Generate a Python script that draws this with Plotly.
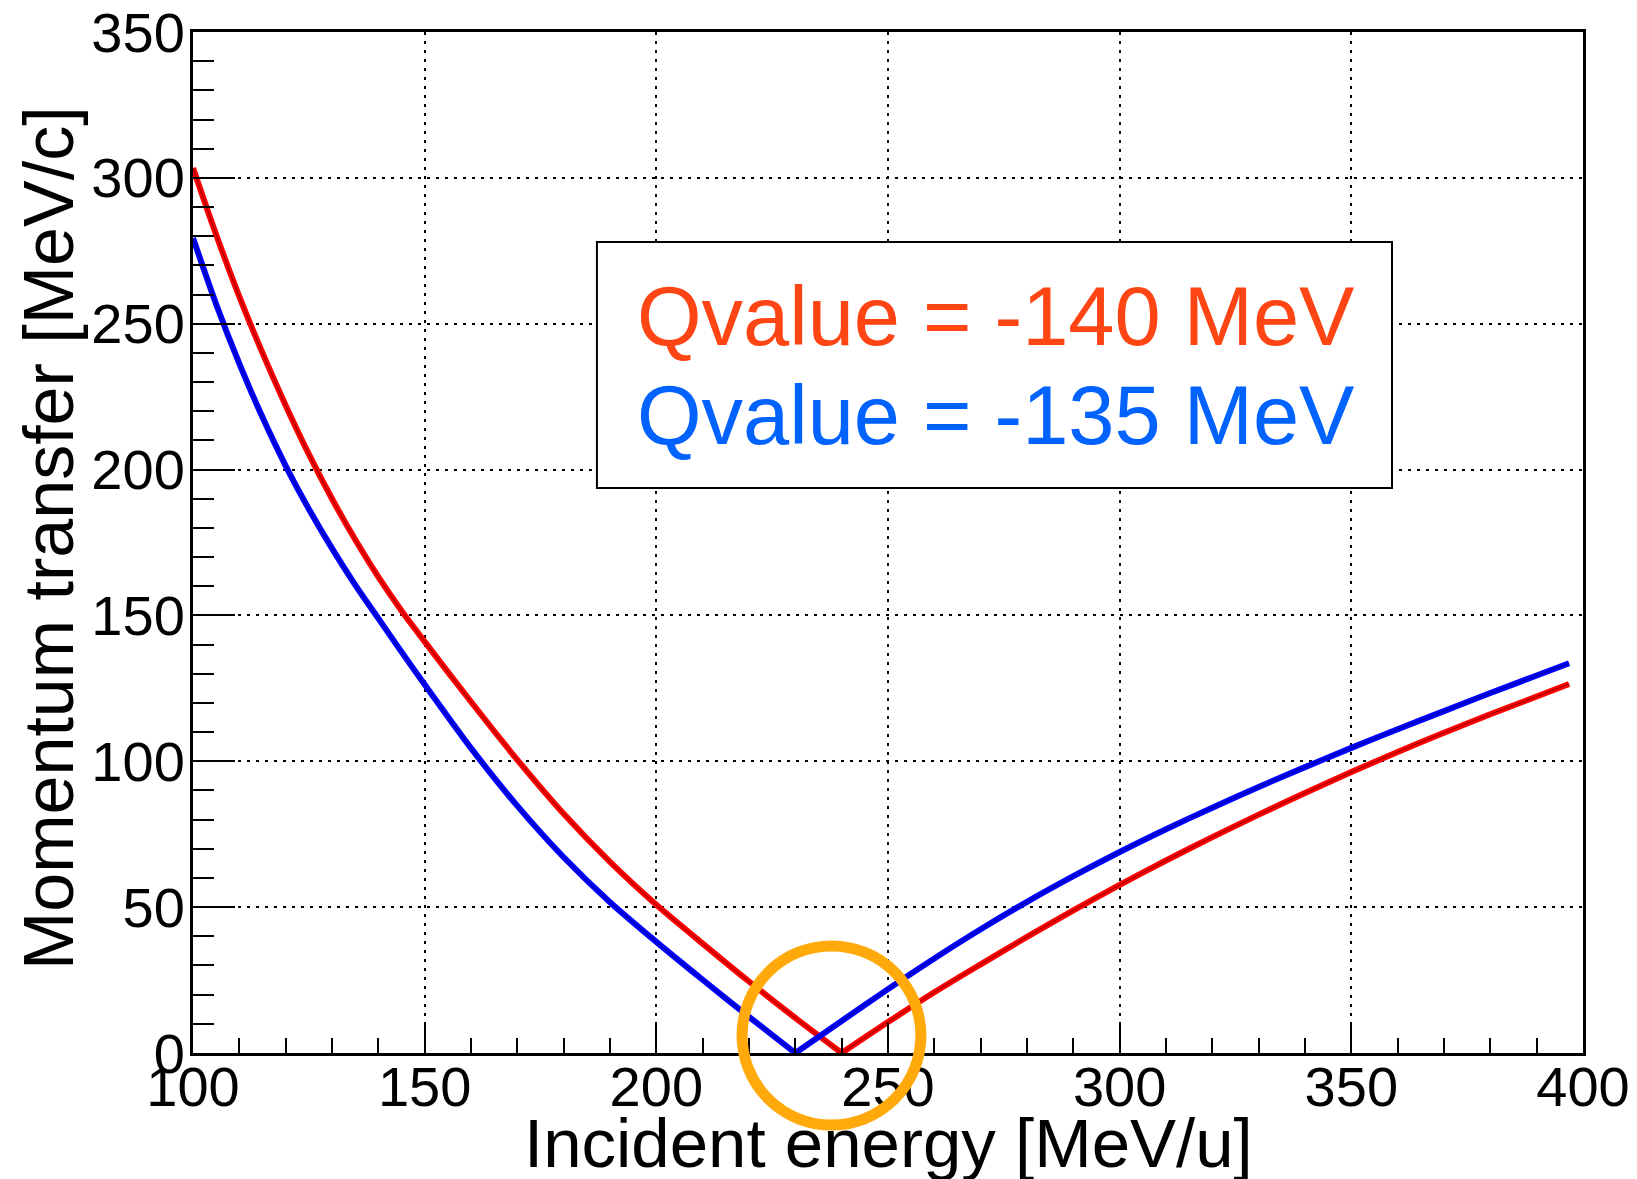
import plotly.graph_objects as go

# Incident energy [MeV/u] and momentum transfer [MeV/c] for two Q-values
energy_q140 = [100, 105, 110, 115, 120, 125, 130, 135, 140, 145, 150, 160, 170, 180,
               190, 200, 210, 220, 230, 240, 250, 260, 270, 280, 290, 300, 310, 320,
               330, 340, 350, 360, 370, 380, 390, 397]
qtrans_q140 = [303.4, 280.5, 259.3, 240.0, 222.0, 205.3, 190.0, 176.0, 163.2, 151.6,
               141.0, 120.4, 100.5, 82.0, 65.5, 50.8, 37.5, 24.5, 12.0, 0.0, 10.6, 20.8,
               30.4, 39.8, 48.9, 57.6, 66.0, 74.0, 81.7, 89.1, 96.3, 103.2, 109.8,
               116.1, 122.2, 126.5]

energy_q135 = [100, 105, 110, 115, 120, 125, 130, 135, 140, 145, 150, 160, 170, 180,
               190, 200, 210, 220, 230, 240, 250, 260, 270, 280, 290, 300, 310, 320,
               330, 340, 350, 360, 370, 380, 390, 397]
qtrans_q135 = [279.4, 256.7, 236.3, 217.9, 201.3, 186.5, 173.0, 160.5, 149.0, 137.5,
               126.3, 104.5, 84.7, 67.1, 51.7, 38.1, 25.1, 12.4, 0.0, 11.0, 21.9, 32.4,
               42.4, 51.8, 60.6, 68.9, 76.7, 84.1, 91.2, 98.0, 104.6, 111.0, 117.2,
               123.4, 129.4, 133.6]

legend_labels = ["Qvalue = -140 MeV", "Qvalue = -135 MeV"]
x_ticks = [100, 150, 200, 250, 300, 350, 400]
y_ticks = [0, 50, 100, 150, 200, 250, 300, 350]

X_RANGE = [100, 400]
Y_RANGE = [0, 350]

FONT = "Liberation Sans, Arial, Helvetica, sans-serif"

fig = go.Figure()


def add_branches(xs, ys, col):
    """Draw the falling and rising branches separately so the cusp at q=0 stays sharp."""
    i_min = ys.index(min(ys))
    for bx, by in [(xs[:i_min + 1], ys[:i_min + 1]), (xs[i_min:], ys[i_min:])]:
        fig.add_trace(go.Scatter(x=bx, y=by, mode="lines",
                                 line=dict(color=col, width=6, shape="spline",
                                           smoothing=0.8),
                                 showlegend=False, hoverinfo="skip"))
        fig.add_trace(go.Scatter(x=bx, y=by, mode="lines",
                                 line=dict(color="black", width=1, shape="spline",
                                           smoothing=0.8),
                                 opacity=0.45, showlegend=False, hoverinfo="skip"))


add_branches(energy_q140, qtrans_q140, "#ff0000")
add_branches(energy_q135, qtrans_q135, "#0000ff")


def to_paper_x(v):
    return (v - X_RANGE[0]) / (X_RANGE[1] - X_RANGE[0])


def to_paper_y(v):
    return (v - Y_RANGE[0]) / (Y_RANGE[1] - Y_RANGE[0])


# highlight ring around the two minima (spills over the axis, so paper refs)
ring_cx, ring_cy = 237.8, 6.0
ring_rx, ring_ry = 19.3, 30.7
fig.add_shape(type="circle", xref="paper", yref="paper",
              x0=to_paper_x(ring_cx - ring_rx), x1=to_paper_x(ring_cx + ring_rx),
              y0=to_paper_y(ring_cy - ring_ry), y1=to_paper_y(ring_cy + ring_ry),
              line=dict(color="#ffaa0a", width=11), layer="above")

# legend box
fig.add_shape(type="rect", xref="paper", yref="paper",
              x0=0.2906, x1=0.8626, y0=0.5534, y1=0.7943,
              line=dict(color="black", width=2), fillcolor="white", layer="above")

for label, col, yy in [(legend_labels[0], "#ff4513", 0.7209),
                       (legend_labels[1], "#0062ff", 0.6247)]:
    fig.add_annotation(text=label, xref="paper", yref="paper", x=0.3181, y=yy,
                       xanchor="left", yanchor="middle", showarrow=False,
                       font=dict(family=FONT, size=83, color=col))

# axis titles
fig.add_annotation(text="Incident energy [MeV/u]", xref="paper", yref="paper",
                   x=0.5007, y=-0.0886, xanchor="center", yanchor="middle",
                   showarrow=False, font=dict(family=FONT, size=69, color="black"))
fig.add_annotation(text="Momentum transfer [MeV/c]", xref="paper", yref="paper",
                   x=-0.1036, y=0.5044, xanchor="center", yanchor="middle",
                   textangle=-90, showarrow=False,
                   font=dict(family=FONT, size=70, color="black"))

axis_common = dict(showline=True, linecolor="black", linewidth=3, mirror=True,
                   ticks="inside", tickcolor="black", tickwidth=2,
                   showgrid=True, gridcolor="black", gridwidth=2, griddash="3px,6px",
                   zeroline=False, tickfont=dict(family=FONT, size=56, color="black"))

fig.update_xaxes(range=X_RANGE, tickvals=x_ticks, ticktext=[str(v) for v in x_ticks],
                 ticklen=30, ticklabelstandoff=-17,
                 minor=dict(dtick=10, ticklen=15, tickwidth=2, tickcolor="black",
                            ticks="inside", showgrid=False),
                 **axis_common)
fig.update_yaxes(range=Y_RANGE, tickvals=y_ticks, ticktext=[str(v) for v in y_ticks],
                 ticklen=42, ticklabelstandoff=-6,
                 minor=dict(dtick=10, ticklen=21, tickwidth=2, tickcolor="black",
                            ticks="inside", showgrid=False),
                 **axis_common)

fig.update_layout(width=1637, height=1179,
                  margin=dict(l=193, r=54, t=32, b=126, autoexpand=False),
                  plot_bgcolor="white", paper_bgcolor="white",
                  font=dict(family=FONT, color="black"))

fig.write_html("out.html")
